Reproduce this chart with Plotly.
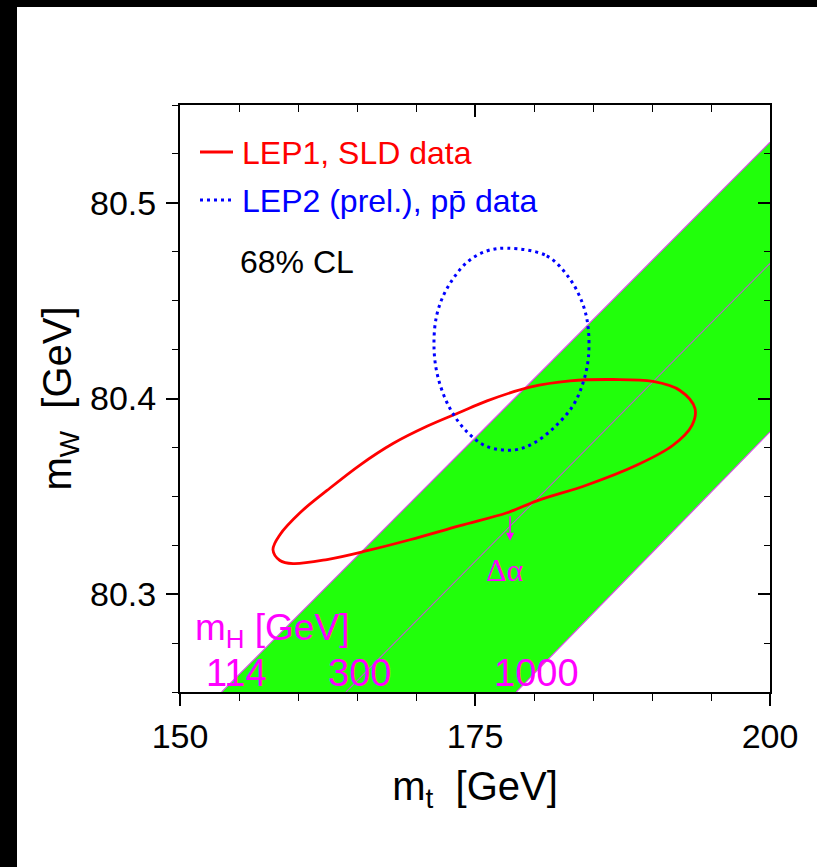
import plotly.graph_objects as go

# ---------------- data ----------------
x_range = [150, 200]
y_range = [80.25, 80.55]
x_tickvals = [150, 175, 200]
x_ticktext = ["150", "175", "200"]
y_tickvals = [80.3, 80.4, 80.5]
y_ticktext = ["80.3", "80.4", "80.5"]

# LEP1, SLD data 68% CL contour (m_t, m_W)
lep1_mt = [157.88, 158.47, 160.17, 162.46, 165.25, 168.05, 170.93, 173.73, 176.02, 179.66,
           183.05, 186.69, 190.08, 192.37, 193.64, 193.39, 191.78, 188.73, 184.49, 180.25,
           177.71, 173.73, 169.49, 165.85, 162.46, 159.58, 158.47, 157.88]
lep1_mw = [80.3227, 80.3304, 80.3416, 80.3530, 80.3660, 80.3770, 80.3858, 80.3930, 80.3988, 80.4058,
           80.4090, 80.4097, 80.4087, 80.4041, 80.3949, 80.3863, 80.3761, 80.3660, 80.3558, 80.3477,
           80.3416, 80.3350, 80.3278, 80.3222, 80.3177, 80.3156, 80.3172, 80.3227]

# LEP2 (prel.), p pbar data 68% CL contour
lep2_mt = [177.77, 181.08, 183.05, 184.18, 184.60, 184.60, 184.18, 183.33, 181.64, 179.94,
           178.33, 175.99, 174.30, 172.88, 171.89, 171.53, 171.75, 172.60, 174.30, 175.99, 177.77]
lep2_mw = [80.4768, 80.4729, 80.4610, 80.4475, 80.4356, 80.4204, 80.4085, 80.3966, 80.3848, 80.3771,
           80.3737, 80.3755, 80.3831, 80.3949, 80.4102, 80.4254, 80.4424, 80.4559, 80.4695, 80.4754, 80.4768]

# SM prediction band, lines of constant m_H
band_mt_114 = [153.53, 200.0]
band_mw_114 = [80.25, 80.531]
band_mt_300 = [164.07, 200.0]
band_mw_300 = [80.25, 80.469]
band_mt_1000 = [178.5, 200.0]
band_mw_1000 = [80.25, 80.383]

mh_labels = ["114", "300", "1000"]
mh_label_mt = [154.83, 165.17, 180.17]
mh_label_mw = 80.2597

# Delta alpha arrow
dalpha_mt = 177.97
dalpha_mw = 80.3273
dalpha_text_mw = 80.3126

# ---------------- styles ----------------
GREEN = "#21ff0b"
MAG = "#ff00ff"
EDGE = "#e048f0"
MID = "#b864c8"
FONT = "Liberation Sans, Arial, Helvetica, sans-serif"

fig = go.Figure()

fig.add_trace(go.Scatter(
    x=band_mt_114 + band_mt_1000[::-1], y=band_mw_114 + band_mw_1000[::-1],
    fill="toself", fillcolor=GREEN, mode="lines", line=dict(width=0, color=GREEN),
    showlegend=False, hoverinfo="skip"))
for xs, ys, c in [(band_mt_114, band_mw_114, EDGE), (band_mt_300, band_mw_300, MID),
                  (band_mt_1000, band_mw_1000, EDGE)]:
    fig.add_trace(go.Scatter(x=xs, y=ys, mode="lines", line=dict(color=c, width=1.1),
                             showlegend=False, hoverinfo="skip"))

fig.add_trace(go.Scatter(x=lep1_mt, y=lep1_mw, mode="lines", name="LEP1, SLD data",
                         line=dict(color="#ff0000", width=2.8, shape="spline", smoothing=1.0),
                         showlegend=False))
fig.add_trace(go.Scatter(x=lep2_mt, y=lep2_mw, mode="lines", name="LEP2 (prel.), pp̄ data",
                         line=dict(color="#0000ff", width=3, dash="3px,4px", shape="spline", smoothing=1.0),
                         showlegend=False))

# invisible trace for mirrored axes
fig.add_trace(go.Scatter(x=[x_range[0]], y=[y_range[0]], xaxis="x2", yaxis="y2", mode="markers",
                         marker=dict(opacity=0), showlegend=False, hoverinfo="skip"))

tickfont = dict(family=FONT, size=34, color="black")
common = dict(showgrid=False, zeroline=False, showline=True, linecolor="black", linewidth=2,
              ticklen=12, tickwidth=1.5, tickcolor="black")

fig.update_layout(
    width=817, height=867,
    margin=dict(l=180, r=47, t=105, b=175),
    paper_bgcolor="white", plot_bgcolor="white",
    font=dict(family=FONT, color="black"),
    xaxis=dict(range=x_range, tickvals=x_tickvals, ticktext=x_ticktext, ticks="outside",
               tickfont=tickfont, ticklabelstandoff=1,
               minor=dict(dtick=5, tick0=150, ticks="outside", ticklen=7, tickwidth=1.2, tickcolor="black"),
               title=dict(text="m<sub>t</sub>\u00a0\u00a0[GeV]", font=dict(family=FONT, size=40), standoff=18),
               **common),
    yaxis=dict(range=y_range, tickvals=y_tickvals, ticktext=y_ticktext, ticks="outside",
               tickfont=tickfont, ticklabelstandoff=3,
               minor=dict(dtick=0.025, tick0=80.25, ticks="outside", ticklen=6, tickwidth=1.2, tickcolor="black"),
               title=dict(text="m<sub>W</sub>\u00a0\u00a0[GeV]", font=dict(family=FONT, size=40), standoff=6),
               **common),
    xaxis2=dict(range=x_range, overlaying="x", side="top", anchor="y", tickvals=x_tickvals, ticks="inside",
                showticklabels=False,
                minor=dict(dtick=5, tick0=150, ticks="inside", ticklen=7, tickwidth=1.2, tickcolor="black"),
                **common),
    yaxis2=dict(range=y_range, overlaying="y", side="right", anchor="x", tickvals=y_tickvals, ticks="inside",
                showticklabels=False,
                minor=dict(dtick=0.025, tick0=80.25, ticks="inside", ticklen=6, tickwidth=1.2, tickcolor="black"),
                **common),
)

def px2paper_x(px):
    return (px - 180) / 590.0

def px2paper_y(py):
    return (692 - py) / 587.0

ann = []
# legend
ann.append(dict(xref="paper", yref="paper", x=px2paper_x(240), y=px2paper_y(153), xanchor="left", yanchor="middle",
                text="LEP1, SLD data", showarrow=False, font=dict(family=FONT, size=32, color="#ff0000")))
ann.append(dict(xref="paper", yref="paper", x=px2paper_x(240), y=px2paper_y(201), xanchor="left", yanchor="middle",
                text="LEP2 (prel.), pp\u0304 data", showarrow=False, font=dict(family=FONT, size=32, color="#0000ff")))
ann.append(dict(xref="paper", yref="paper", x=px2paper_x(238), y=px2paper_y(262), xanchor="left", yanchor="middle",
                text="68% CL", showarrow=False, font=dict(family=FONT, size=32, color="black")))
# m_H labels
ann.append(dict(x=151.1, y=80.2815, xanchor="left", yanchor="middle", text="m<sub>H</sub> [GeV]",
                showarrow=False, font=dict(family=FONT, size=37, color=MAG)))
for lab, xm in zip(mh_labels, mh_label_mt):
    ann.append(dict(x=xm, y=mh_label_mw, xanchor="center", yanchor="middle", text=lab,
                    showarrow=False, font=dict(family=FONT, size=38, color=MAG)))
# Delta alpha
ann.append(dict(x=dalpha_mt, y=dalpha_mw, ax=0, ay=-26, showarrow=True, arrowhead=2, arrowsize=1,
                arrowwidth=1.6, arrowcolor=MAG, text=""))
ann.append(dict(x=dalpha_mt - 0.4, y=dalpha_text_mw, xanchor="center", yanchor="middle", text="Δα",
                showarrow=False, font=dict(family="Liberation Serif, Times New Roman, serif", size=32, color=MAG)))
fig.update_layout(annotations=ann)

shapes = []
shapes.append(dict(type="line", xref="paper", yref="paper", x0=px2paper_x(200), x1=px2paper_x(233),
                   y0=px2paper_y(152), y1=px2paper_y(152), line=dict(color="#ff0000", width=2.8)))
shapes.append(dict(type="line", xref="paper", yref="paper", x0=px2paper_x(200), x1=px2paper_x(233),
                   y0=px2paper_y(200), y1=px2paper_y(200), line=dict(color="#0000ff", width=3, dash="3px,4px")))
# black frame strips of the image
shapes.append(dict(type="rect", xref="paper", yref="paper", x0=px2paper_x(-5), x1=px2paper_x(17),
                   y0=px2paper_y(880), y1=px2paper_y(-5), fillcolor="black", line=dict(width=0), layer="above"))
shapes.append(dict(type="rect", xref="paper", yref="paper", x0=px2paper_x(-5), x1=px2paper_x(830),
                   y0=px2paper_y(7), y1=px2paper_y(-5), fillcolor="black", line=dict(width=0), layer="above"))
fig.update_layout(shapes=shapes)

fig.write_html("out.html", config={"displayModeBar": False},
               post_script="document.body.style.margin='0';document.body.style.padding='0';"
                           "document.body.style.overflow='hidden';")
